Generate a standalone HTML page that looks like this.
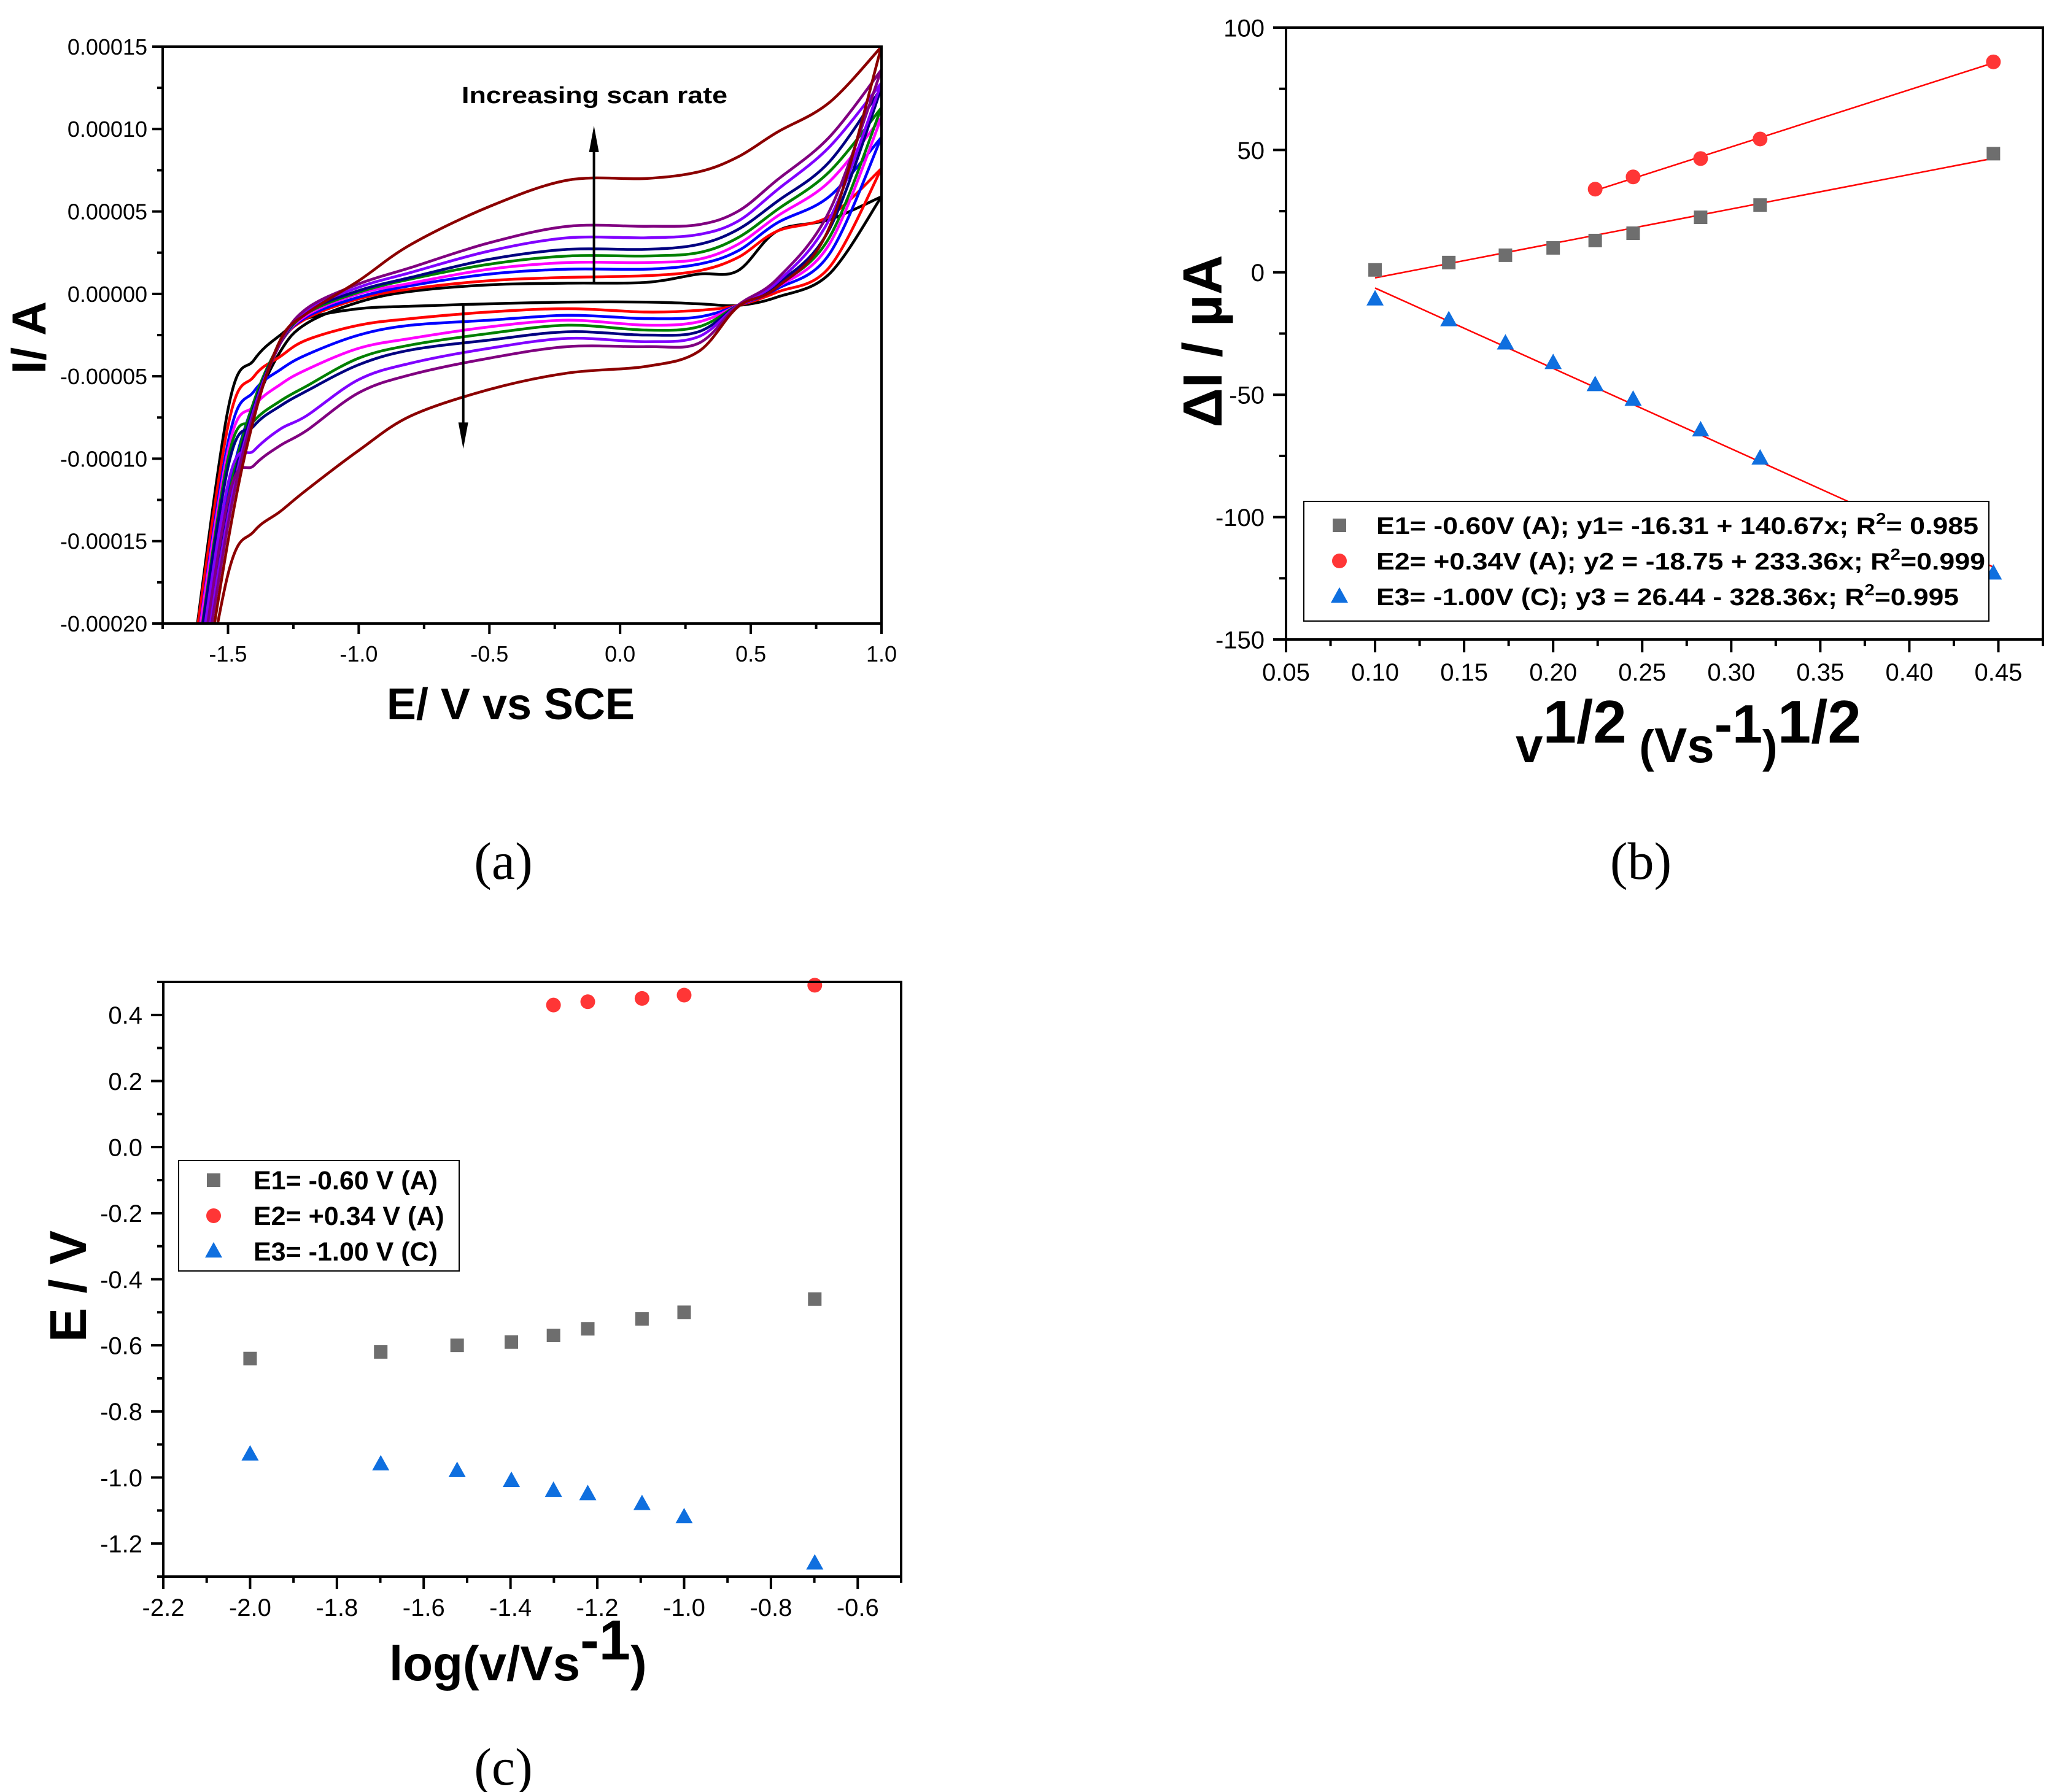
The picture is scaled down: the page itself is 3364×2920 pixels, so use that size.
<!DOCTYPE html>
<html><head><meta charset="utf-8"><style>
html,body{margin:0;padding:0;background:#fff;}
svg{display:block;font-family:"Liberation Sans",Arial,sans-serif;}
</style></head><body>
<svg id="fig" width="3364" height="2920" viewBox="0 0 3364 2920" xmlns="http://www.w3.org/2000/svg">
<defs>
<clipPath id="clipA"><rect x="265" y="76" width="1171" height="940"/></clipPath>
</defs>
<g id="panelA"></g>
<g id="panelB"></g>
<g id="panelC"></g>
<text x="820" y="1432" font-family="Liberation Serif,serif" font-size="86" text-anchor="middle">(a)</text>
<text x="2673" y="1432" font-family="Liberation Serif,serif" font-size="86" text-anchor="middle">(b)</text>
<text x="820" y="2908" font-family="Liberation Serif,serif" font-size="86" text-anchor="middle">(c)</text>
</svg>
<script>
// ---------- Panel A data (current in units of 1e-5 A) ----------
const cvPotentials = [-1.65,-1.5,-1.4,-1.3,-1.2,-1.0,-0.8,-0.5,-0.2,0.1,0.3,0.45,0.6,0.8,1.0];
const cvColors = ["#000000","#ff0000","#0000ff","#ff00ff","#008000","#000080","#8000ff","#800080","#8b0000"];
const cvNames = ["scan-1","scan-2","scan-3","scan-4","scan-5","scan-6","scan-7","scan-8","scan-9"];
const cvUpper = [
 [-22,-13,-7,-3.5,-1.8,-0.5,0.15,0.55,0.65,0.7,1.2,1.4,3.8,4.5,5.9],
 [-23,-12,-6.5,-3,-1.5,-0.3,0.3,0.8,1.0,1.1,1.4,2.2,3.8,4.7,7.6],
 [-24,-12,-6.5,-3,-1.4,-0.2,0.5,1.2,1.5,1.5,1.8,2.6,4.3,5.9,9.5],
 [-25,-12.5,-6.5,-3,-1.3,0,0.65,1.5,1.9,1.9,2.1,3.0,4.7,6.8,10.7],
 [-26,-12.5,-6.5,-3,-1.2,0.1,0.9,1.8,2.3,2.3,2.5,3.4,5.1,7.4,11.3],
 [-27,-13,-6.8,-3,-1.1,0.2,1.0,2.1,2.7,2.7,3.0,3.9,5.6,8.0,12.5],
 [-28,-13.5,-7,-3,-1.0,0.4,1.3,2.6,3.4,3.4,3.6,4.4,6.3,8.9,12.8],
 [-29,-14,-7.2,-3,-0.9,0.6,1.6,3.1,4.1,4.1,4.2,5.0,6.9,9.5,13.6],
 [-30,-15,-7.5,-2.8,-1.2,0.8,3.0,5.3,6.9,7.0,7.4,8.3,9.8,11.6,15]
];
const cvLower = [
 [-24,-7,-4,-2.5,-1.5,-0.9,-0.75,-0.6,-0.5,-0.5,-0.6,-0.7,-0.2,1.2,5.9],
 [-24,-8,-5,-3.8,-2.8,-1.9,-1.5,-1.1,-0.9,-1.1,-1.0,-0.7,0.1,1.6,7.6],
 [-25,-9,-5.9,-4.6,-3.7,-2.5,-1.9,-1.6,-1.3,-1.5,-1.4,-0.7,0.3,2.4,9.5],
 [-25,-9.5,-6.8,-5.5,-4.6,-3.3,-2.7,-2.0,-1.6,-1.9,-1.7,-0.7,0.4,3.0,10.7],
 [-26,-10,-7.7,-6.5,-5.6,-3.9,-3.1,-2.4,-1.9,-2.2,-2.0,-0.7,0.5,3.4,11.3],
 [-26,-10.5,-8,-6.8,-5.9,-4.3,-3.4,-2.8,-2.3,-2.5,-2.3,-0.7,0.6,3.9,12.5],
 [-27,-11.5,-9.5,-8.2,-7.4,-5.2,-4.2,-3.3,-2.7,-2.9,-2.6,-0.7,0.7,4.5,12.8],
 [-28,-12.5,-10.4,-9.2,-8.3,-6.0,-4.9,-3.9,-3.2,-3.2,-3.0,-0.7,0.9,5.0,13.6],
 [-30,-17,-14.4,-13.2,-11.9,-9.5,-7.4,-5.8,-4.8,-4.4,-3.5,-0.8,0.4,4.0,15]
];
const aXTicks = [-1.5,-1.0,-0.5,0.0,0.5,1.0];
const aXTickLabels = ["-1.5","-1.0","-0.5","0.0","0.5","1.0"];
const aYTicks = [15,10,5,0,-5,-10,-15,-20];
const aYTickLabels = ["0.00015","0.00010","0.00005","0.00000","-0.00005","-0.00010","-0.00015","-0.00020"];

// ---------- Panel B data ----------
const bX = [0.1,0.1414,0.1732,0.2,0.2236,0.2449,0.2828,0.3162,0.4472];
const bE1 = [1,4,7,10,13,16,22.5,27.5,48.5];
const bXE2 = [0.2236,0.2449,0.2828,0.3162,0.4472];
const bE2 = [34,39,46.5,54.5,86];
const bE3 = [-11,-19.5,-29,-37,-46,-52,-64.5,-76,-123];
const bFitIntercepts = [-16.31,-18.75,26.44];
const bFitSlopes = [140.67,233.36,-328.36];
const bXTicks = [0.05,0.10,0.15,0.20,0.25,0.30,0.35,0.40,0.45];
const bXTickLabels = ["0.05","0.10","0.15","0.20","0.25","0.30","0.35","0.40","0.45"];
const bYTicks = [100,50,0,-50,-100,-150];
const bYTickLabels = ["100","50","0","-50","-100","-150"];

// ---------- Panel C data ----------
const cX = [-2,-1.699,-1.523,-1.398,-1.301,-1.222,-1.097,-1,-0.699];
const cE1 = [-0.64,-0.62,-0.60,-0.59,-0.57,-0.55,-0.52,-0.50,-0.46];
const cXE2 = [-1.301,-1.222,-1.097,-1,-0.699];
const cE2 = [0.43,0.44,0.45,0.46,0.49];
const cE3 = [-0.93,-0.96,-0.98,-1.01,-1.04,-1.05,-1.08,-1.12,-1.26];
const cXTicks = [-2.2,-2.0,-1.8,-1.6,-1.4,-1.2,-1.0,-0.8,-0.6];
const cXTickLabels = ["-2.2","-2.0","-1.8","-1.6","-1.4","-1.2","-1.0","-0.8","-0.6"];
const cYTicks = [0.4,0.2,0.0,-0.2,-0.4,-0.6,-0.8,-1.0,-1.2];
const cYTickLabels = ["0.4","0.2","0.0","-0.2","-0.4","-0.6","-0.8","-1.0","-1.2"];

const NS="http://www.w3.org/2000/svg";
function el(tag, attrs, parent){const e=document.createElementNS(NS,tag);for(const k in attrs)e.setAttribute(k,attrs[k]);parent.appendChild(e);return e;}
function lin(d0,d1,r0,r1){return v=>r0+(v-d0)*(r1-r0)/(d1-d0);}
function smooth(pts){let d="M"+pts[0][0].toFixed(1)+","+pts[0][1].toFixed(1);
 for(let i=0;i<pts.length-1;i++){const p0=pts[i-1]||pts[i],p1=pts[i],p2=pts[i+1],p3=pts[i+2]||p2;
  const c1=[p1[0]+(p2[0]-p0[0])/6,p1[1]+(p2[1]-p0[1])/6],c2=[p2[0]-(p3[0]-p1[0])/6,p2[1]-(p3[1]-p1[1])/6];
  d+=" C"+c1[0].toFixed(1)+","+c1[1].toFixed(1)+" "+c2[0].toFixed(1)+","+c2[1].toFixed(1)+" "+p2[0].toFixed(1)+","+p2[1].toFixed(1);}
 return d;}

function frame(g,L,T,R,B,sw){
 const r=el("rect",{x:L,y:T,width:R-L,height:B-T,fill:"none",stroke:"#000","stroke-width":sw},g);
 
 
}
function axisTicks(g,opt){
 opt.xTicks.forEach((v,i)=>{const x=opt.sx(v);
  const t=el("line",{x1:x,y1:opt.B,x2:x,y2:opt.B+opt.major,stroke:"#000","stroke-width":opt.tw},g);
  
  
  const lb=el("text",{x:x,y:opt.xLabelY,"font-size":opt.fs,"text-anchor":"middle"},g);lb.textContent=opt.xLabels[i];
  
  
 });
 opt.xMinor.forEach(v=>{const x=opt.sx(v);
  const t=el("line",{x1:x,y1:opt.B,x2:x,y2:opt.B+opt.minor,stroke:"#000","stroke-width":opt.tw},g);
  
  });
 opt.yTicks.forEach((v,i)=>{const y=opt.sy(v);
  const t=el("line",{x1:opt.L,y1:y,x2:opt.L-opt.major,y2:y,stroke:"#000","stroke-width":opt.tw},g);
  
  
  const lb=el("text",{x:opt.yLabelX,y:y+opt.fs*0.36,"font-size":opt.fs,"text-anchor":"end"},g);lb.textContent=opt.yLabels[i];
  
  
 });
 opt.yMinor.forEach(v=>{const y=opt.sy(v);
  const t=el("line",{x1:opt.L,y1:y,x2:opt.L-opt.minor,y2:y,stroke:"#000","stroke-width":opt.tw},g);
  
  });
}
function square(g,x,y,s,c){return el("rect",{x:x-s/2,y:y-s/2,width:s,height:s,fill:c},g);}
function circle(g,x,y,r,c){return el("circle",{cx:x,cy:y,r:r,fill:c},g);}
function tri(g,x,y,s,c){const h=s*0.9;return el("polygon",{points:`${x},${y-h*0.6} ${x-s/2},${y+h*0.4} ${x+s/2},${y+h*0.4}`,fill:c},g);}
const GRAY="#6e6e6e",RED="#ff3636",BLUE="#0f6fdf";

// ================= Panel A =================
(function(){
 const g=document.getElementById("panelA");
 const L=265,T=76,R=1436,B=1016;
 const sx=lin(-1.75,1.0,L,R), sy=lin(15,-20,T,B);
 const cg=el("g",{"clip-path":"url(#clipA)"},g);
 cvUpper.forEach((u,k)=>{
  const up=cvPotentials.map((e,i)=>[sx(e),sy(u[i])]);
  const lo=cvPotentials.map((e,i)=>[sx(e),sy(cvLower[k][i])]).reverse();
  const p=el("path",{d:smooth(up)+" "+smooth(lo).replace("M","L"),fill:"none",stroke:cvColors[k],"stroke-width":4.5,"stroke-linejoin":"round"},cg);
  
  
 });
 frame(g,L,T,R,B,4);
 axisTicks(g,{L,B,sx,sy,major:17,minor:9,tw:4,fs:36,xTicks:aXTicks,xLabels:aXTickLabels,xMinor:[-1.75,-1.25,-0.75,-0.25,0.25,0.75],
  xLabelY:1078,yTicks:aYTicks,yLabels:aYTickLabels,yMinor:[12.5,7.5,2.5,-2.5,-7.5,-12.5,-17.5],yLabelX:240});
 const ar1=el("line",{x1:sx(-0.1),y1:sy(0.6),x2:sx(-0.1),y2:sy(9.4),stroke:"#000","stroke-width":4},g);
 
 
 const h1=el("polygon",{points:`${sx(-0.1)},${sy(10.2)} ${sx(-0.1)-8},${sy(8.6)} ${sx(-0.1)+8},${sy(8.6)}`,fill:"#000"},g);
 
 
 const ar2=el("line",{x1:sx(-0.6),y1:sy(-0.6),x2:sx(-0.6),y2:sy(-8.6),stroke:"#000","stroke-width":4},g);
 
 
 const h2=el("polygon",{points:`${sx(-0.6)},${sy(-9.4)} ${sx(-0.6)-8},${sy(-7.8)} ${sx(-0.6)+8},${sy(-7.8)}`,fill:"#000"},g);
 
 
 const an=el("text",{x:752,y:168,"font-size":38,"font-weight":"bold",textLength:433,lengthAdjust:"spacingAndGlyphs"},g);
 an.textContent="Increasing scan rate";
 
 
 const xt=el("text",{x:832,y:1172,"font-size":72,"font-weight":"bold","text-anchor":"middle"},g);
 xt.textContent="E/ V vs SCE";
 
 
 const yt=el("text",{x:0,y:0,"font-size":78,"font-weight":"bold","text-anchor":"middle",transform:"translate(74,550) rotate(-90)"},g);
 yt.textContent="I/ A";
 
 
})();

// ================= Panel B =================
(function(){
 const g=document.getElementById("panelB");
 const L=2095,T=45,R=3328,B=1042;
 const sx=lin(0.05,0.475,L,R), sy=lin(100,-150,T,B);
 const fitX0=[bX[0],bXE2[0],bX[0]], fitX1=[bX[bX.length-1],bXE2[bXE2.length-1],bX[bX.length-1]];
 bFitSlopes.forEach((m,i)=>{
  const ln=el("line",{x1:sx(fitX0[i]),y1:sy(bFitIntercepts[i]+m*fitX0[i]),x2:sx(fitX1[i]),y2:sy(bFitIntercepts[i]+m*fitX1[i]),stroke:"#ff0000","stroke-width":2.5},g);
  
  
 });
 bX.forEach((x,i)=>{const m=square(g,sx(x),sy(bE1[i]),22,GRAY);
  
  });
 bXE2.forEach((x,i)=>{const m=circle(g,sx(x),sy(bE2[i]),12,RED);
  
  });
 bX.forEach((x,i)=>{const m=tri(g,sx(x),sy(bE3[i]),28,BLUE);
  
  });
 frame(g,L,T,R,B,4);
 const xMinor=[0.075,0.125,0.175,0.225,0.275,0.325,0.375,0.425,0.475];
 const yMinor=[75,25,-25,-75,-125];
 axisTicks(g,{L,B,sx,sy,major:21,minor:11,tw:4,fs:40,xTicks:bXTicks,xLabels:bXTickLabels,xMinor,
  xLabelY:1109,yTicks:bYTicks,yLabels:bYTickLabels,yMinor,yLabelX:2060});
 const lg=el("g",{},g);
 
 
 el("rect",{x:2124,y:817,width:1116,height:195,fill:"#fff",stroke:"#000","stroke-width":2},lg);
 const rows=[856,914,972];
 const ms=[square(lg,2182,rows[0],22,GRAY),circle(lg,2182,rows[1],12,RED),tri(lg,2182,rows[2],28,BLUE)];
 ms.forEach((m,i)=>{
  });
 const texts=[["E1= -0.60V (A); y1= -16.31 + 140.67x; R","= 0.985",981],["E2= +0.34V (A); y2 = -18.75 + 233.36x; R","=0.999",992],["E3= -1.00V (C); y3 = 26.44 - 328.36x; R","=0.995",949]];
 texts.forEach((t,i)=>{
  const tx=el("text",{x:2242,y:rows[i]+14,"font-size":39,"font-weight":"bold",textLength:t[2],lengthAdjust:"spacingAndGlyphs"},lg);
  const a=el("tspan",{},tx);a.textContent=t[0];
  const s=el("tspan",{dy:-16,"font-size":26},tx);s.textContent="2";
  const b=el("tspan",{dy:16},tx);b.textContent=t[1];
  
  
 });
 const yt=el("text",{x:0,y:0,"font-size":90,"font-weight":"bold","text-anchor":"middle",transform:"translate(1990,556) rotate(-90)"},g);
 yt.textContent="ΔI / µA";
 
 
 const xt=el("text",{x:2469,y:1242,"font-weight":"bold","font-size":80},g);
 
 
 const parts=[["v",80,0],["1/2",98,-32],[" (",74,32],["Vs",80,0],["-1",88,-32],[")",74,32],["1/2",98,-32]];
 parts.forEach(p=>{const s=el("tspan",{"font-size":p[1],dy:p[2]},xt);s.textContent=p[0];});
})();

// ================= Panel C =================
(function(){
 const g=document.getElementById("panelC");
 const L=266,T=1600,R=1468,B=2569;
 const sx=lin(-2.2,-0.5,L,R), sy=lin(0.5,-1.3,T,B);
 cX.forEach((x,i)=>{const m=square(g,sx(x),sy(cE1[i]),22,GRAY);
  
  });
 cXE2.forEach((x,i)=>{const m=circle(g,sx(x),sy(cE2[i]),12,RED);
  
  });
 cX.forEach((x,i)=>{const m=tri(g,sx(x),sy(cE3[i]),28,BLUE);
  
  });
 frame(g,L,T,R,B,4);
 const xMinor=[-2.1,-1.9,-1.7,-1.5,-1.3,-1.1,-0.9,-0.7,-0.5];
 const yMinor=[0.5,0.3,0.1,-0.1,-0.3,-0.5,-0.7,-0.9,-1.1,-1.3];
 axisTicks(g,{L,B,sx,sy,major:20,minor:10,tw:4,fs:40,xTicks:cXTicks,xLabels:cXTickLabels,xMinor,
  xLabelY:2633,yTicks:cYTicks,yLabels:cYTickLabels,yMinor,yLabelX:232});
 const lg=el("g",{},g);
 
 
 el("rect",{x:291,y:1891,width:457,height:180,fill:"#fff",stroke:"#000","stroke-width":2},lg);
 const rows=[1923,1981,2039];
 const ms=[square(lg,348,rows[0],22,GRAY),circle(lg,348,rows[1],12,RED),tri(lg,348,rows[2],28,BLUE)];
 ms.forEach((m,i)=>{
  });
 const texts=["E1= -0.60 V (A)","E2= +0.34 V (A)","E3= -1.00 V (C)"];
 texts.forEach((t,i)=>{
  const tx=el("text",{x:413,y:rows[i]+15,"font-size":43,"font-weight":"bold"},lg);tx.textContent=t;
  
  
 });
 const yt=el("text",{x:0,y:0,"font-size":84,"font-weight":"bold","text-anchor":"middle",transform:"translate(140,2096) rotate(-90)"},g);
 yt.textContent="E / V";
 
 
 const xt=el("text",{x:634,y:2738,"font-size":80,"font-weight":"bold"},g);
 
 
 const a=el("tspan",{},xt);a.textContent="log(v/Vs";
 const b=el("tspan",{dy:-34,"font-size":92},xt);b.textContent="-1";
 const c=el("tspan",{dy:34},xt);c.textContent=")";
})();
</script>
</body></html>
